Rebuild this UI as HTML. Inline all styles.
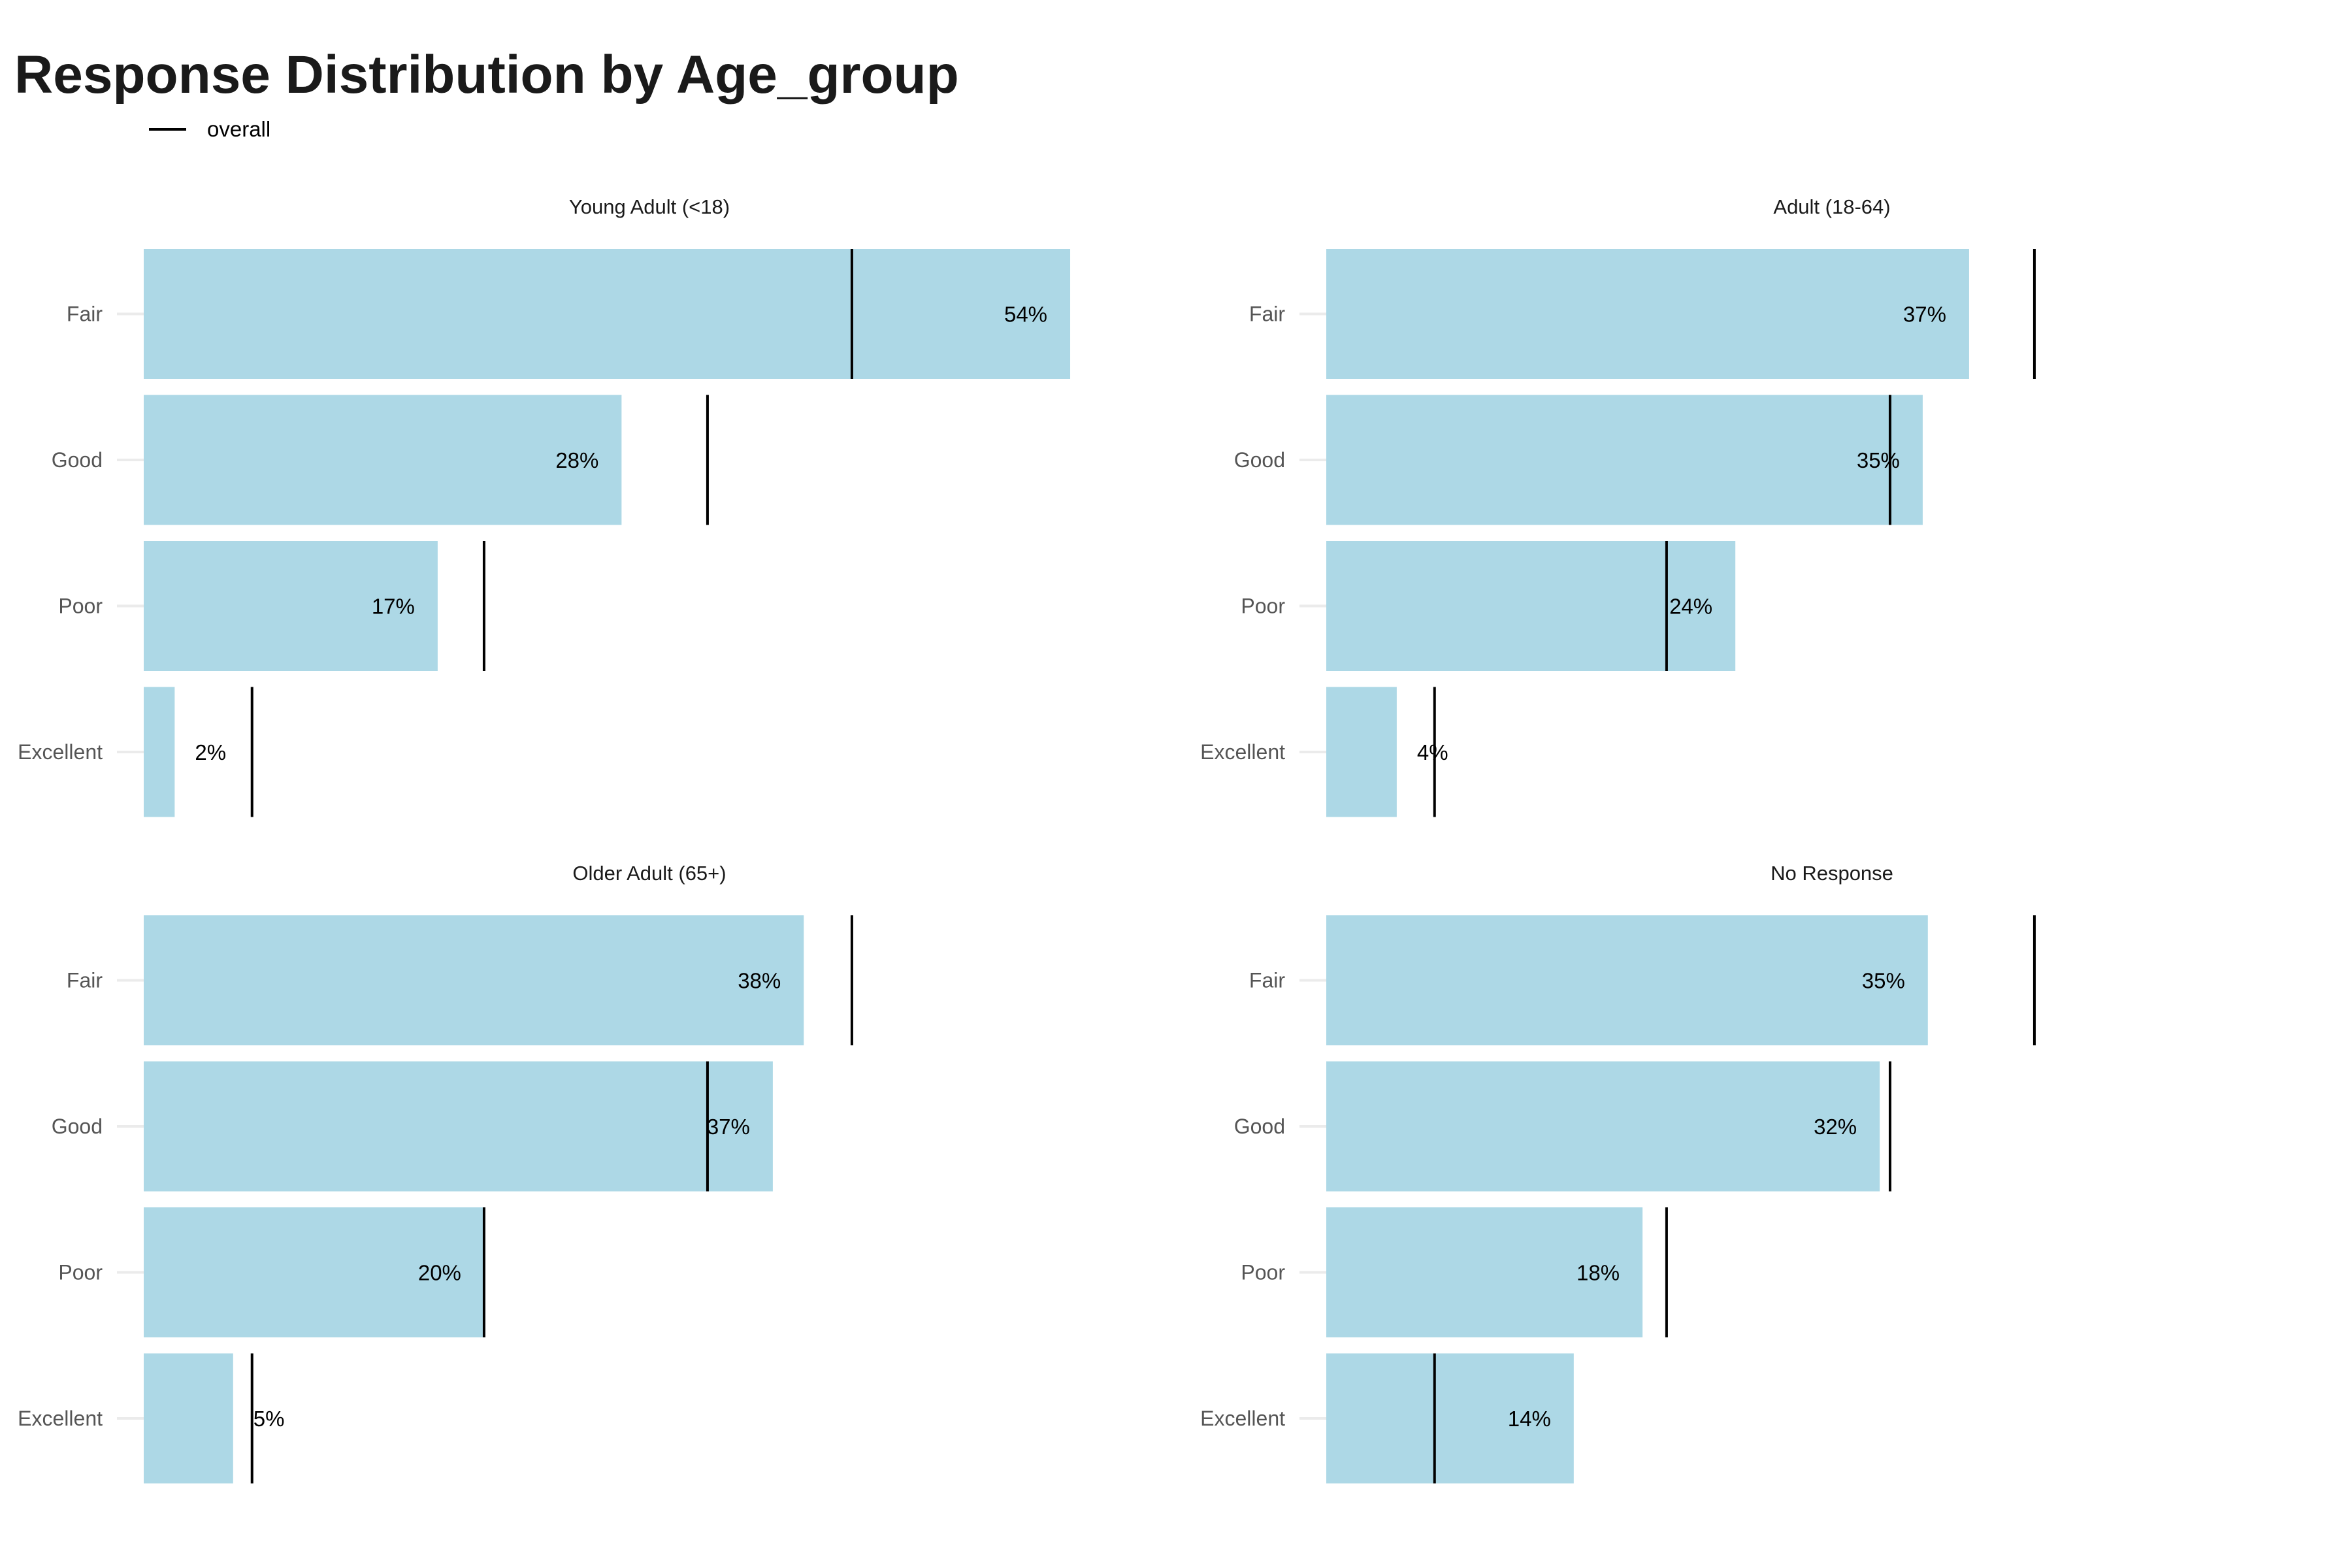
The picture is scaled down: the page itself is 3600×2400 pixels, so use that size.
<!DOCTYPE html>
<html><head><meta charset="utf-8"><style>
html,body{margin:0;padding:0;background:#fff;}
svg{display:block;font-family:"Liberation Sans",sans-serif;}
</style></head><body>
<svg id="chart" width="3600" height="2400" viewBox="0 0 3600 2400">
<text x="22" y="142" font-size="82" font-weight="bold" fill="#1a1a1a">Response Distribution by Age_group</text>
<g>
<line x1="228" y1="198" x2="285" y2="198" stroke="#000" stroke-width="4"/>
<text x="317" y="209" font-size="33" fill="#000">overall</text>
</g>
</svg>
<script>
const panels = ["Young Adult (<18)", "Adult (18-64)", "Older Adult (65+)", "No Response"];
const categories = ["Fair", "Good", "Poor", "Excellent"];
const valuesYoung = [53.9, 27.8, 17.1, 1.8];
const valuesAdult = [37.4, 34.7, 23.8, 4.1];
const valuesOlder = [38.4, 36.6, 19.8, 5.2];
const valuesNoResp = [35.0, 32.2, 18.4, 14.4];
const overallValues = [41.2, 32.8, 19.8, 6.3];
const xMax = 59.6;

const seriesList = [valuesYoung, valuesAdult, valuesOlder, valuesNoResp];
const svg = document.getElementById('chart');
const NS = 'http://www.w3.org/2000/svg';
const panelW = 1568;
const panelLeft = [220, 2030, 220, 2030];
const panelTop = [381, 381, 1401, 1401];
const step = 223.5, barH = 199;
function mk(tag, attrs){const e=document.createElementNS(NS,tag);for(const k in attrs)e.setAttribute(k,attrs[k]);return e;}
function xs(v,p){return panelLeft[p]+v/xMax*panelW;}
function yb(i,p){return panelTop[p]+i*step;}

panels.forEach((name,p)=>{
  const g=mk('g',{});
  
  
  svg.appendChild(g);
  const t=mk('text',{x:panelLeft[p]+panelW/2-10,y:panelTop[p]-54,'font-size':31,'text-anchor':'middle',fill:'#1a1a1a'});
  t.textContent=name;
  
  
  g.appendChild(t);
  const vals=seriesList[p];
  categories.forEach((c,i)=>{
    const cy=yb(i,p)+barH/2;
    const tick=mk('line',{x1:panelLeft[p]-41,x2:panelLeft[p],y1:cy,y2:cy,stroke:'#ebebeb','stroke-width':4});
    
    
    g.appendChild(tick);
    const lab=mk('text',{x:panelLeft[p]-63,y:cy+11,'font-size':32,'text-anchor':'end',fill:'#555'});
    lab.textContent=c;
    
    
    g.appendChild(lab);
    const v=vals[i];
    const bar=mk('rect',{x:panelLeft[p],y:yb(i,p),width:xs(v,p)-panelLeft[p],height:barH,fill:'#add8e6'});
    
    
    g.appendChild(bar);
    const ox=xs(overallValues[i],p);
    const ol=mk('line',{x1:ox,x2:ox,y1:yb(i,p),y2:yb(i,p)+barH,stroke:'#000','stroke-width':4});
    
    
    g.appendChild(ol);
    const inside=v>=10;
    const vt=mk('text',{x:inside?xs(v,p)-35:xs(v,p)+31,y:cy+12,'font-size':33,'text-anchor':inside?'end':'start',fill:'#000'});
    vt.textContent=Math.round(v)+'%';
    
    
    g.appendChild(vt);
  });
});
</script>
</body></html>
